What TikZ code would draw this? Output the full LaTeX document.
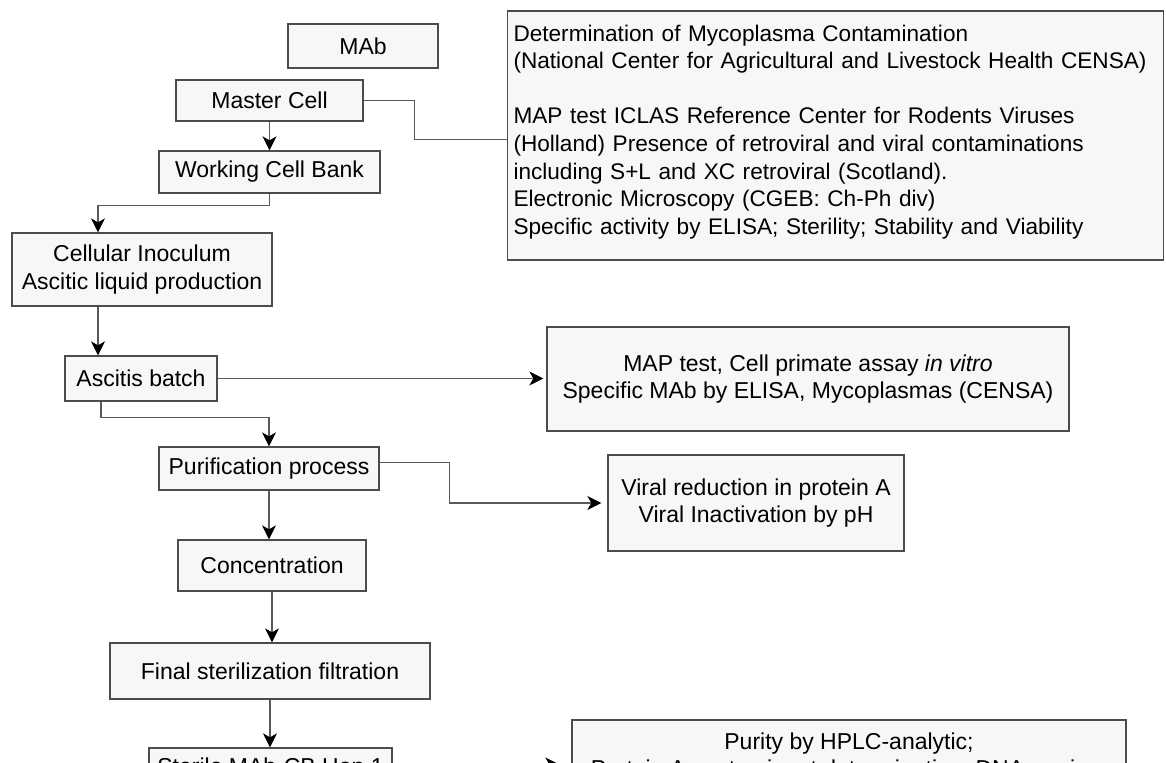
\documentclass[tikz,border=0pt]{standalone}
\usepackage{fontspec}
\setmainfont{Liberation Sans}
\usepackage{tikz}
\usetikzlibrary{arrows.meta,positioning}

\begin{document}
\begin{tikzpicture}[
    x=0.5pt, y=-0.5pt,
    stagebox/.style={rectangle, draw=black!70, fill=black!3, line width=0.65pt, align=center, inner sep=2pt, font=\fontsize{11.5}{14}\selectfont},
    testbox/.style={stagebox, font=\fontsize{11.5}{13.7}\selectfont},
    link/.style={draw=black!65, line width=0.6pt},
    arr/.style={link, -{Stealth[length=7pt, width=7pt, inset=2pt, color=black]}},
]
\useasboundingbox (0,0) rectangle (1166,762);
\clip (0,0) rectangle (1166,762);

% Production stages
\node[stagebox, minimum width=75pt, minimum height=22pt] (mab) at (363,46) {MAb};
\node[stagebox, minimum width=93.5pt, minimum height=20.5pt] (master) at (269.5,100.5) {Master Cell};
\node[stagebox, minimum width=110.5pt, minimum height=21pt] (wcb) at (269.5,172) {Working Cell Bank};
\node[stagebox, minimum width=130pt, minimum height=36.5pt] (inoculum) at (142,269.5) {Cellular Inoculum\\Ascitic liquid production};
\node[stagebox, minimum width=76pt, minimum height=22.5pt] (ascitis) at (141,378.5) {Ascitis batch};
\node[stagebox, minimum width=110pt, minimum height=21.5pt] (purif) at (269,468.5) {Purification process};
\node[stagebox, minimum width=94pt, minimum height=25.5pt] (conc) at (272,565.5) {Concentration};
\node[stagebox, minimum width=160pt, minimum height=28pt] (final) at (270,671) {Final sterilization filtration};
\node[stagebox, minimum width=121.5pt, minimum height=20.5pt] (sterile) at (270.5,768.5) {Sterile MAb-CB.Hep.1};

% Quality control tests
\node[testbox, font=\fontsize{11.3}{13.8}\selectfont, align=left, text width=322pt, inner xsep=3pt, text height=8.5pt, text depth=103pt, minimum height=124.5pt] (myco) at (835.5,135.5) {Determination of Mycoplasma Contamination\\(National Center for Agricultural and Livestock Health CENSA)\\[13.8pt]MAP test ICLAS Reference Center for Rodents Viruses\\(Holland) Presence of retroviral and viral contaminations\\including S+L and XC retroviral (Scotland).\\Electronic Microscopy (CGEB: Ch-Ph div)\\Specific activity by ELISA; Sterility; Stability and Viability};
\node[testbox, minimum width=261pt, minimum height=52pt] (map) at (808,379) {MAP test, Cell primate assay \textit{in vitro}\\Specific MAb by ELISA, Mycoplasmas (CENSA)};
\node[testbox, minimum width=148pt, minimum height=48pt] (viral) at (756,503) {Viral reduction in protein A\\Viral Inactivation by pH};
\node[testbox, minimum width=277pt, minimum height=36pt] (purity) at (849,756) {Purity by HPLC-analytic;\\Protein A contaminant determination; DNA murine;};

% Connectors
\draw[arr] (master) -- (wcb);
\draw[arr] (wcb.south) -- ++(0,12) -| ([xshift=-22pt]inoculum.north);
\draw[arr] ([xshift=-22pt]inoculum.south) -- ([xshift=-22pt]inoculum.south |- ascitis.north);
\draw[arr, shorten >=1.5pt] (ascitis.east) -- (ascitis.east -| map.west);
\draw[arr] ([xshift=-20pt]ascitis.south) -- ++(0,16) -| (purif.north);
\draw[arr, shorten >=3pt] ([yshift=3pt]purif.east) -- ++(70,0) |- (viral.west);
\draw[arr] (purif.south) -- (purif.south |- conc.north);
\draw[arr] (conc.south) -- (conc.south |- final.north);
\draw[arr] (final.south) -- (final.south |- sterile.north);
\draw[arr, shorten >=6pt] ([yshift=2pt]sterile.east) -- ([yshift=2pt]sterile.east -| purity.west);
\draw[link] (master.east) -- ++(51,0) |- ([yshift=-2pt]myco.west);

\end{tikzpicture}
\end{document}
